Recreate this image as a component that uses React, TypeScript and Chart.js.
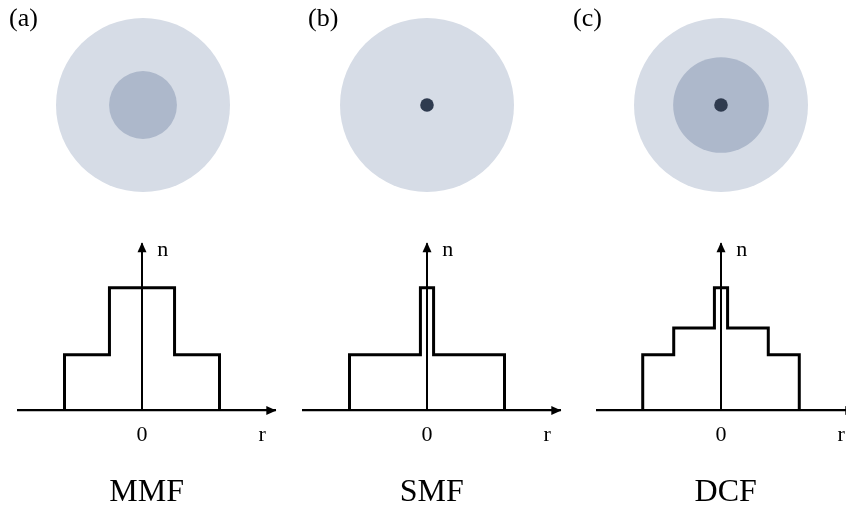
import { useEffect, useRef } from "react";
import { Chart, registerables } from "chart.js";

Chart.register(...registerables);

// Panel tags and fibre names
const panelLabels = ["(a)", "(b)", "(c)"];
const fiberNames = ["MMF", "SMF", "DCF"];

// Cross-section layers, outermost first, radii relative to the cladding radius
const mmfDiscRadii = [1, 0.39];
const smfDiscRadii = [1, 0.078];
const dcfDiscRadii = [1, 0.55, 0.078];

// Step-index profiles: layer edges |r| (outermost first) and index level of each layer
const mmfEdges = [1, 0.42];
const mmfLevels = [1, 2.2];
const smfEdges = [1, 0.085];
const smfLevels = [1, 2.2];
const dcfEdges = [1.01, 0.61, 0.085];
const dcfLevels = [1, 1.48, 2.2];

// Axis labels of the profile plots
const rTickValues = [0, 1.55];
const rTickLabels = ["0", "r"];
const nTickValues = [2.87];
const nTickLabels = ["n"];

const CLADDING = "#d6dce6";
const RING = "#adb8cb";
const CORE = "#2f3b4f";
const mmfDiscColors = [CLADDING, RING];
const smfDiscColors = [CLADDING, CORE];
const dcfDiscColors = [CLADDING, RING, CORE];

const SERIF = "'Liberation Serif', 'Times New Roman', serif";
const DISC_PX = 87; // pixels per unit radius in the cross-sections

type Panel = {
  label: string;
  name: string;
  discRadii: number[];
  discColors: string[];
  edges: number[];
  levels: number[];
  axisX: number;
  discX: number;
  labelX: number;
};

const panels: Panel[] = [
  { label: panelLabels[0], name: fiberNames[0], discRadii: mmfDiscRadii, discColors: mmfDiscColors, edges: mmfEdges, levels: mmfLevels, axisX: 142, discX: 143, labelX: 9 },
  { label: panelLabels[1], name: fiberNames[1], discRadii: smfDiscRadii, discColors: smfDiscColors, edges: smfEdges, levels: smfLevels, axisX: 427, discX: 427, labelX: 308 },
  { label: panelLabels[2], name: fiberNames[2], discRadii: dcfDiscRadii, discColors: dcfDiscColors, edges: dcfEdges, levels: dcfLevels, axisX: 720.5, discX: 721, labelX: 573 },
];

// Outline of a symmetric step profile, from -r_max to +r_max
function stepProfile(edges: number[], levels: number[]) {
  const left: { x: number; y: number }[] = [{ x: -edges[0], y: 0 }];
  edges.forEach((e, i) => {
    if (i > 0) left.push({ x: -e, y: levels[i - 1] });
    left.push({ x: -e, y: levels[i] });
  });
  const right = left
    .slice()
    .reverse()
    .map((p) => ({ x: -p.x, y: p.y }));
  return left.concat(right);
}

// Arrowheads at the ends of the r and n axes
const arrowAxes = {
  id: "arrowAxes",
  afterDraw(chart: any) {
    const { ctx, chartArea, scales } = chart;
    const x0 = scales.x.getPixelForValue(0);
    const y0 = scales.y.getPixelForValue(0);
    const len = 10;
    const half = 4.5;
    ctx.save();
    ctx.fillStyle = "#000";
    ctx.beginPath();
    ctx.moveTo(chartArea.right + 1, y0);
    ctx.lineTo(chartArea.right + 1 - len, y0 - half);
    ctx.lineTo(chartArea.right + 1 - len, y0 + half);
    ctx.closePath();
    ctx.fill();
    ctx.beginPath();
    ctx.moveTo(x0, chartArea.top - 1);
    ctx.lineTo(x0 - half, chartArea.top - 1 + len);
    ctx.lineTo(x0 + half, chartArea.top - 1 + len);
    ctx.closePath();
    ctx.fill();
    ctx.restore();
  },
};

const DISC_TOP = 0;
const DISC_H = 230;
const PROFILE_TOP = 230;
const PROFILE_H = 290;
const PROFILE_W = 280;

function FiberPanel({ panel }: { panel: Panel }) {
  const discRef = useRef<HTMLCanvasElement>(null);
  const profileRef = useRef<HTMLCanvasElement>(null);

  const discLeft = panel.labelX;
  const discW = 2 * (panel.discX - discLeft);
  const discHalf = discW / 2 / DISC_PX;

  useEffect(() => {
    const n = panel.discRadii.length;
    const discRadius = (ctx: any) => {
      const s = ctx.chart.scales.x;
      return s.getPixelForValue(ctx.raw.r) - s.getPixelForValue(0);
    };
    const disc = new Chart(discRef.current as HTMLCanvasElement, {
      type: "scatter",
      data: {
        datasets: panel.discRadii.map((r, i) => ({
          data: [{ x: 0, y: 0, r }],
          backgroundColor: panel.discColors[i],
          borderWidth: 0,
          order: n - i,
          clip: false as any,
          pointRadius: discRadius,
          pointHoverRadius: discRadius,
        })),
      },
      options: {
        responsive: false,
        animation: false,
        events: [],
        layout: { padding: { left: 0, right: 0, top: 0, bottom: 52 } },
        plugins: {
          legend: { display: false },
          tooltip: { enabled: false },
          title: {
            display: true,
            text: panel.label,
            position: "top",
            align: "start",
            color: "#000",
            font: { family: SERIF, size: 26, weight: "normal", lineHeight: 1 },
            padding: { top: 6, bottom: 0 },
          },
        },
        scales: {
          x: { type: "linear", display: false, min: -discHalf, max: discHalf },
          y: { type: "linear", display: false, min: -1, max: 1 },
        },
      },
    });

    const profile = new Chart(profileRef.current as HTMLCanvasElement, {
      type: "line",
      data: {
        datasets: [
          {
            data: stepProfile(panel.edges, panel.levels),
            borderColor: "#000",
            borderWidth: 3,
            borderJoinStyle: "miter",
            borderCapStyle: "butt",
            pointRadius: 0,
            pointHoverRadius: 0,
            fill: false,
            tension: 0,
            clip: false as any,
          },
        ],
      },
      options: {
        responsive: false,
        animation: false,
        events: [],
        layout: { padding: { left: 16, right: 6.7, top: 10, bottom: 0 } },
        plugins: {
          legend: { display: false },
          tooltip: { enabled: false },
          title: {
            display: true,
            text: panel.name,
            position: "bottom",
            color: "#000",
            font: { family: SERIF, size: 32, weight: "normal", lineHeight: 1 },
            padding: { top: 18, bottom: 11 },
          },
        },
        scales: {
          x: {
            type: "linear",
            min: -1.6,
            max: 1.72,
            afterBuildTicks: (s: any) => {
              s.ticks = rTickValues.map((v) => ({ value: v }));
            },
            ticks: {
              autoSkip: false,
              maxRotation: 0,
              padding: 11,
              color: "#000",
              font: { family: SERIF, size: 22 },
              callback: (_v: any, i: number) => rTickLabels[i],
            },
            grid: {
              drawTicks: false,
              tickLength: 0,
              color: (ctx: any) => (ctx.tick && ctx.tick.value === 0 ? "#000" : "rgba(0,0,0,0)"),
              lineWidth: (ctx: any) => (ctx.tick && ctx.tick.value === 0 ? 2 : 0),
            },
            border: { display: true, color: "#000", width: 2.2 },
          },
          y: {
            type: "linear",
            min: 0,
            max: 3,
            position: { x: 0.34 } as any,
            afterBuildTicks: (s: any) => {
              s.ticks = nTickValues.map((v) => ({ value: v }));
            },
            ticks: {
              autoSkip: false,
              padding: 0,
              color: "#000",
              font: { family: SERIF, size: 22 },
              callback: (_v: any, i: number) => nTickLabels[i],
            },
            grid: { display: false, drawTicks: false, tickLength: 0 },
            border: { display: false },
          },
        },
      },
      plugins: [arrowAxes],
    });

    return () => {
      disc.destroy();
      profile.destroy();
    };
  }, [panel]);

  return (
    <>
      <canvas
        ref={discRef}
        width={discW}
        height={DISC_H}
        style={{ position: "absolute", left: discLeft, top: DISC_TOP, display: "block" }}
      />
      <canvas
        ref={profileRef}
        width={PROFILE_W}
        height={PROFILE_H}
        style={{ position: "absolute", left: panel.axisX - PROFILE_W / 2, top: PROFILE_TOP, display: "block" }}
      />
    </>
  );
}

export default function App() {
  return (
    <div
      style={{
        position: "fixed",
        left: 0,
        top: 0,
        width: 846,
        height: 506,
        overflow: "hidden",
        background: "#fff",
      }}
    >
      {panels.map((p, i) => (
        <FiberPanel key={i} panel={p} />
      ))}
    </div>
  );
}
